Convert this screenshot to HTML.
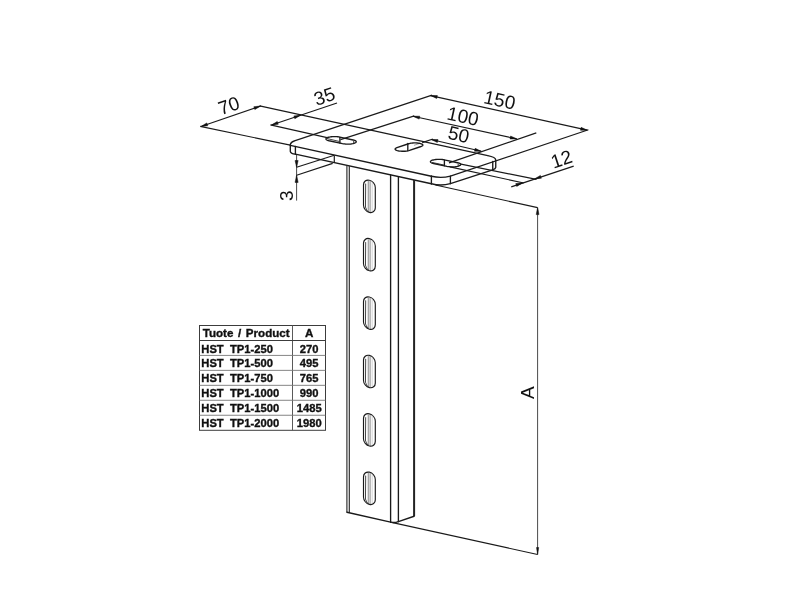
<!DOCTYPE html>
<html><head><meta charset="utf-8"><title>HST TP1</title>
<style>
html,body{margin:0;padding:0;background:#fff;}
body{width:800px;height:600px;overflow:hidden;position:relative;font-family:"Liberation Sans",sans-serif;}
svg{position:absolute;left:0;top:0;filter:grayscale(1);}
.o{fill:none;stroke:#1a1a1a;stroke-width:1.35;stroke-linecap:round;stroke-linejoin:round;}
.d{fill:none;stroke:#1a1a1a;stroke-width:1.18;stroke-linecap:butt;}
.g{fill:none;stroke:#2a2a2a;stroke-width:1.15;}
.l{fill:none;stroke:#666;stroke-width:0.6;}
.s{fill:none;stroke:#2a2a2a;stroke-width:0.9;}
.ar{fill:#111;stroke:#111;stroke-width:0.5;stroke-linejoin:round;}
.th{font-family:"Liberation Sans",sans-serif;font-weight:bold;font-size:11.2px;fill:#111;stroke:#111;stroke-width:0.35px;}
.dt{font-family:"Liberation Sans",sans-serif;font-size:19px;fill:#111;text-anchor:middle;stroke:none;}
</style></head><body>
<svg width="800" height="600" viewBox="0 0 800 600">

<line class="d" x1="200.20" y1="126.30" x2="290.30" y2="145.20"/>
<line class="d" x1="259.60" y1="105.80" x2="487.80" y2="155.70"/>
<line class="d" x1="201.00" y1="126.50" x2="260.60" y2="106.00"/>
<polygon class="ar" points="201.00,126.50 206.75,122.93 207.73,125.77"/>
<polygon class="ar" points="260.60,106.00 254.85,109.57 253.87,106.73"/>
<line class="d" x1="270.40" y1="124.80" x2="328.20" y2="137.95"/>
<line class="d" x1="271.50" y1="125.00" x2="337.00" y2="103.00"/>
<polygon class="ar" points="271.50,125.00 277.28,121.48 278.23,124.32"/>
<polygon class="ar" points="300.60,115.20 294.82,118.72 293.87,115.88"/>
<line class="d" x1="294.40" y1="140.90" x2="432.00" y2="95.10"/>
<line class="d" x1="450.40" y1="176.10" x2="588.40" y2="129.80"/>
<line class="d" x1="430.60" y1="95.60" x2="587.25" y2="130.20"/>
<polygon class="ar" points="430.60,95.60 437.37,95.56 436.72,98.49"/>
<polygon class="ar" points="587.25,130.20 580.48,130.24 581.13,127.31"/>
<line class="d" x1="340.50" y1="139.60" x2="414.30" y2="115.90"/>
<line class="d" x1="449.00" y1="162.90" x2="536.30" y2="132.90"/>
<line class="d" x1="413.00" y1="116.25" x2="516.75" y2="138.90"/>
<polygon class="ar" points="413.00,116.25 419.77,116.19 419.13,119.12"/>
<polygon class="ar" points="516.75,138.90 509.98,138.96 510.62,136.03"/>
<line class="d" x1="422.20" y1="142.60" x2="432.90" y2="139.00"/>
<line class="l" x1="414.00" y1="145.30" x2="420.00" y2="143.30"/>
<line class="d" x1="431.25" y1="139.50" x2="481.25" y2="151.30"/>
<polygon class="ar" points="431.25,139.50 438.02,139.56 437.33,142.48"/>
<polygon class="ar" points="481.25,151.30 474.48,151.24 475.17,148.32"/>
<line class="d" x1="459.80" y1="163.90" x2="536.50" y2="179.40"/>
<line class="d" x1="450.00" y1="166.90" x2="523.80" y2="183.00"/>
<line class="d" x1="511.25" y1="186.90" x2="573.70" y2="166.10"/>
<polygon class="ar" points="522.50,182.90 516.71,186.41 515.76,183.56"/>
<polygon class="ar" points="534.60,178.90 540.39,175.39 541.34,178.24"/>
<line x1="296.6" y1="154.6" x2="296.6" y2="200.6" style="stroke:#333;stroke-width:0.9"/>
<polygon class="ar" points="296.60,167.30 295.05,160.50 298.15,160.50"/>
<polygon class="ar" points="296.60,175.20 298.15,182.40 295.05,182.40"/>
<line class="d" x1="334.30" y1="155.30" x2="296.60" y2="167.30"/>
<line class="d" x1="332.70" y1="163.40" x2="296.60" y2="175.20"/>
<line class="d" x1="334.30" y1="155.40" x2="334.30" y2="162.90"/>
<line class="d" x1="435.50" y1="185.00" x2="537.60" y2="207.60"/>
<line class="d" x1="391.50" y1="522.40" x2="537.60" y2="554.50"/>
<line x1="537.6" y1="207.6" x2="537.6" y2="554.5" style="stroke:#4a4a4a;stroke-width:1"/>
<polygon class="ar" points="537.60,207.60 539.00,214.60 536.20,214.60"/>
<polygon class="ar" points="537.60,554.50 536.50,547.50 538.70,547.50"/>
<path class="o" d="M294.4,140.9 Q290.6,142.3 290.3,144.6 L290.3,151.4 Q290.6,153.6 295.4,154.2"/>
<line class="o" x1="295.40" y1="146.40" x2="295.40" y2="154.20"/>
<line class="o" x1="290.30" y1="145.30" x2="431.40" y2="176.25"/>
<line class="o" x1="295.40" y1="154.20" x2="431.40" y2="183.75"/>
<path class="o" d="M431.4,176.25 Q441,178.6 450.4,176.1"/>
<path class="o" d="M431.4,183.75 Q441,186.3 450.4,183.6"/>
<line class="o" x1="431.40" y1="176.25" x2="431.40" y2="183.75"/>
<line class="o" x1="450.40" y1="176.10" x2="450.40" y2="183.60"/>
<line class="o" x1="450.40" y1="183.60" x2="492.75" y2="169.90"/>
<path class="o" d="M487.8,155.7 Q495.4,157.2 495.75,159.8 L495.75,167.4 Q495.6,168.9 492.75,169.9"/>
<line class="o" x1="492.75" y1="161.40" x2="492.75" y2="169.90"/>
<path class="o" d="M342.43,143.63 L343.34,143.80 L344.32,143.94 L345.36,144.04 L346.44,144.10 L347.55,144.13 L348.66,144.11 L349.75,144.06 L350.81,143.96 L351.82,143.83 L352.76,143.66 L353.62,143.47 L354.37,143.24 L355.01,142.99 L355.53,142.72 L355.92,142.43 L356.17,142.13 L356.27,141.83 L356.23,141.53 L356.04,141.23 L355.72,140.94 L355.25,140.67 L354.66,140.41 L353.96,140.18 L353.14,139.98 L339.77,137.07 L338.86,136.90 L337.88,136.76 L336.84,136.66 L335.76,136.60 L334.65,136.57 L333.54,136.59 L332.45,136.64 L331.39,136.74 L330.38,136.87 L329.44,137.04 L328.58,137.23 L327.83,137.46 L327.19,137.71 L326.67,137.98 L326.28,138.27 L326.03,138.57 L325.93,138.87 L325.97,139.17 L326.16,139.47 L326.48,139.76 L326.95,140.03 L327.54,140.29 L328.24,140.52 L329.06,140.72Z"/>
<path class="o" d="M408.51,143.76 L409.23,143.55 L410.04,143.36 L410.94,143.20 L411.90,143.08 L412.91,142.99 L413.95,142.93 L415.01,142.92 L416.06,142.94 L417.09,143.00 L418.08,143.09 L419.02,143.22 L419.88,143.39 L420.65,143.58 L421.33,143.80 L421.89,144.04 L422.33,144.30 L422.64,144.58 L422.82,144.86 L422.86,145.15 L422.76,145.44 L422.52,145.72 L422.16,146.00 L421.66,146.25 L421.05,146.49 L409.49,150.44 L408.77,150.65 L407.96,150.84 L407.06,151.00 L406.10,151.12 L405.09,151.21 L404.05,151.27 L402.99,151.28 L401.94,151.26 L400.91,151.20 L399.92,151.11 L398.98,150.98 L398.12,150.81 L397.35,150.62 L396.67,150.40 L396.11,150.16 L395.67,149.90 L395.36,149.62 L395.18,149.34 L395.14,149.05 L395.24,148.76 L395.48,148.48 L395.84,148.20 L396.34,147.95 L396.95,147.71Z"/>
<path class="o" d="M446.93,166.38 L447.84,166.55 L448.82,166.69 L449.86,166.79 L450.94,166.85 L452.05,166.88 L453.16,166.86 L454.25,166.81 L455.31,166.71 L456.32,166.58 L457.26,166.41 L458.12,166.22 L458.87,165.99 L459.51,165.74 L460.03,165.47 L460.42,165.18 L460.67,164.88 L460.77,164.58 L460.73,164.28 L460.54,163.98 L460.22,163.69 L459.75,163.42 L459.16,163.16 L458.46,162.93 L457.64,162.73 L444.27,159.82 L443.36,159.65 L442.38,159.51 L441.34,159.41 L440.26,159.35 L439.15,159.32 L438.04,159.34 L436.95,159.39 L435.89,159.49 L434.88,159.62 L433.94,159.79 L433.08,159.98 L432.33,160.21 L431.69,160.46 L431.17,160.73 L430.78,161.02 L430.53,161.32 L430.43,161.62 L430.47,161.92 L430.66,162.22 L430.98,162.51 L431.45,162.78 L432.04,163.04 L432.74,163.27 L433.56,163.47Z"/>
<line class="o" x1="339.90" y1="137.35" x2="339.90" y2="143.05"/>
<line class="s" x1="353.70" y1="140.75" x2="353.70" y2="143.35"/>
<line class="o" x1="444.40" y1="160.10" x2="444.40" y2="165.80"/>
<line class="s" x1="458.20" y1="163.50" x2="458.20" y2="166.10"/>
<line class="s" x1="326.90" y1="138.50" x2="339.50" y2="141.50"/>
<line class="s" x1="432.00" y1="162.40" x2="444.20" y2="165.10"/>
<line class="o" x1="407.80" y1="143.50" x2="407.80" y2="150.30"/>
<line class="g" x1="346.90" y1="165.39" x2="346.90" y2="512.25"/>
<line class="g" x1="349.30" y1="165.91" x2="349.30" y2="512.80"/>
<line class="o" x1="390.60" y1="174.89" x2="390.60" y2="522.20"/>
<line class="o" x1="398.40" y1="176.58" x2="398.40" y2="521.60"/>
<line x1="414.1" y1="179.99" x2="414.1" y2="516.25" style="fill:none;stroke:#222;stroke-width:2"/>
<line class="o" x1="346.90" y1="512.25" x2="390.60" y2="522.20"/>
<path class="o" d="M390.6,522.2 Q394.6,523.1 398.4,521.6"/>
<line class="o" x1="398.40" y1="521.60" x2="414.10" y2="516.25"/>
<g transform="matrix(1,0.2275,0,1,369.4,196.30)">
<rect class="o" x="-5.9" y="-16.1" width="11.8" height="32.2" rx="5.9" ry="5.9" style="stroke-width:1.15"/>
<path class="l" style="stroke:#333;stroke-width:0.9" d="M-3.7,-11.8 L-3.9,11.5 Q-3.3,14.6 -0.6,15.9"/>
</g>
<line x1="368.25" y1="180.90" x2="368.25" y2="211.70" style="stroke:#444;stroke-width:0.65"/>
<line x1="370.1" y1="180.70" x2="370.1" y2="212.10" style="stroke:#444;stroke-width:0.65"/>
<line x1="372.2" y1="181.80" x2="372.2" y2="211.30" style="stroke:#aaa;stroke-width:0.5"/>
<g transform="matrix(1,0.2275,0,1,369.4,254.70)">
<rect class="o" x="-5.9" y="-16.1" width="11.8" height="32.2" rx="5.9" ry="5.9" style="stroke-width:1.15"/>
<path class="l" style="stroke:#333;stroke-width:0.9" d="M-3.7,-11.8 L-3.9,11.5 Q-3.3,14.6 -0.6,15.9"/>
</g>
<line x1="368.25" y1="239.30" x2="368.25" y2="270.10" style="stroke:#444;stroke-width:0.65"/>
<line x1="370.1" y1="239.10" x2="370.1" y2="270.50" style="stroke:#444;stroke-width:0.65"/>
<line x1="372.2" y1="240.20" x2="372.2" y2="269.70" style="stroke:#aaa;stroke-width:0.5"/>
<g transform="matrix(1,0.2275,0,1,369.4,313.10)">
<rect class="o" x="-5.9" y="-16.1" width="11.8" height="32.2" rx="5.9" ry="5.9" style="stroke-width:1.15"/>
<path class="l" style="stroke:#333;stroke-width:0.9" d="M-3.7,-11.8 L-3.9,11.5 Q-3.3,14.6 -0.6,15.9"/>
</g>
<line x1="368.25" y1="297.70" x2="368.25" y2="328.50" style="stroke:#444;stroke-width:0.65"/>
<line x1="370.1" y1="297.50" x2="370.1" y2="328.90" style="stroke:#444;stroke-width:0.65"/>
<line x1="372.2" y1="298.60" x2="372.2" y2="328.10" style="stroke:#aaa;stroke-width:0.5"/>
<g transform="matrix(1,0.2275,0,1,369.4,371.50)">
<rect class="o" x="-5.9" y="-16.1" width="11.8" height="32.2" rx="5.9" ry="5.9" style="stroke-width:1.15"/>
<path class="l" style="stroke:#333;stroke-width:0.9" d="M-3.7,-11.8 L-3.9,11.5 Q-3.3,14.6 -0.6,15.9"/>
</g>
<line x1="368.25" y1="356.10" x2="368.25" y2="386.90" style="stroke:#444;stroke-width:0.65"/>
<line x1="370.1" y1="355.90" x2="370.1" y2="387.30" style="stroke:#444;stroke-width:0.65"/>
<line x1="372.2" y1="357.00" x2="372.2" y2="386.50" style="stroke:#aaa;stroke-width:0.5"/>
<g transform="matrix(1,0.2275,0,1,369.4,429.90)">
<rect class="o" x="-5.9" y="-16.1" width="11.8" height="32.2" rx="5.9" ry="5.9" style="stroke-width:1.15"/>
<path class="l" style="stroke:#333;stroke-width:0.9" d="M-3.7,-11.8 L-3.9,11.5 Q-3.3,14.6 -0.6,15.9"/>
</g>
<line x1="368.25" y1="414.50" x2="368.25" y2="445.30" style="stroke:#444;stroke-width:0.65"/>
<line x1="370.1" y1="414.30" x2="370.1" y2="445.70" style="stroke:#444;stroke-width:0.65"/>
<line x1="372.2" y1="415.40" x2="372.2" y2="444.90" style="stroke:#aaa;stroke-width:0.5"/>
<g transform="matrix(1,0.2275,0,1,369.4,488.30)">
<rect class="o" x="-5.9" y="-16.1" width="11.8" height="32.2" rx="5.9" ry="5.9" style="stroke-width:1.15"/>
<path class="l" style="stroke:#333;stroke-width:0.9" d="M-3.7,-11.8 L-3.9,11.5 Q-3.3,14.6 -0.6,15.9"/>
</g>
<line x1="368.25" y1="472.90" x2="368.25" y2="503.70" style="stroke:#444;stroke-width:0.65"/>
<line x1="370.1" y1="472.70" x2="370.1" y2="504.10" style="stroke:#444;stroke-width:0.65"/>
<line x1="372.2" y1="473.80" x2="372.2" y2="503.30" style="stroke:#aaa;stroke-width:0.5"/>
<text class="dt" transform="translate(228.90,105.50) rotate(-19.00)" x="0" y="6.70">70</text>
<text class="dt" transform="translate(324.25,96.25) rotate(-18.60)" x="0" y="6.70">35</text>
<text class="dt" transform="translate(499.70,99.90) rotate(12.46)" x="0" y="6.70">150</text>
<text class="dt" transform="translate(463.00,116.00) rotate(12.46)" x="0" y="6.70">100</text>
<text class="dt" transform="translate(458.75,134.40) rotate(12.90)" x="0" y="6.70">50</text>
<text class="dt" transform="translate(561.30,159.00) rotate(-18.40)" x="0" y="6.70">12</text>
<text class="dt" transform="translate(286.25,195.60) rotate(-90.00)" x="0" y="6.70">3</text>
<text class="dt" transform="translate(527.20,392.60) rotate(-90.00)" x="0" y="6.70">A</text>
<rect x="199.5" y="325.5" width="126" height="104.8" style="fill:#fff;stroke:#3c3c3c;stroke-width:1"/>
<line x1="292.5" y1="325.5" x2="292.5" y2="430.3" style="stroke:#5a5a5a;stroke-width:1"/>
<line x1="199.5" y1="340.5" x2="325.5" y2="340.5" style="stroke:#3c3c3c;stroke-width:1"/>
<line x1="199.5" y1="355.41" x2="325.5" y2="355.41" style="stroke:#777;stroke-width:0.9"/>
<line x1="199.5" y1="370.37" x2="325.5" y2="370.37" style="stroke:#777;stroke-width:0.9"/>
<line x1="199.5" y1="385.33" x2="325.5" y2="385.33" style="stroke:#777;stroke-width:0.9"/>
<line x1="199.5" y1="400.29" x2="325.5" y2="400.29" style="stroke:#777;stroke-width:0.9"/>
<line x1="199.5" y1="415.25" x2="325.5" y2="415.25" style="stroke:#777;stroke-width:0.9"/>
<text class="th" x="202.7" y="336.8" style="font-size:11.6px;word-spacing:1.4px">Tuote / Product</text>
<text class="th" x="309.2" y="336.8" style="font-size:11.6px;text-anchor:middle">A</text>
<text class="th" x="201.3" y="352.50" style="word-spacing:3.2px">HST TP1-250</text>
<text class="th" x="309.2" y="352.50" style="text-anchor:middle">270</text>
<text class="th" x="201.3" y="367.42" style="word-spacing:3.2px">HST TP1-500</text>
<text class="th" x="309.2" y="367.42" style="text-anchor:middle">495</text>
<text class="th" x="201.3" y="382.34" style="word-spacing:3.2px">HST TP1-750</text>
<text class="th" x="309.2" y="382.34" style="text-anchor:middle">765</text>
<text class="th" x="201.3" y="397.26" style="word-spacing:3.2px">HST TP1-1000</text>
<text class="th" x="309.2" y="397.26" style="text-anchor:middle">990</text>
<text class="th" x="201.3" y="412.18" style="word-spacing:3.2px">HST TP1-1500</text>
<text class="th" x="309.2" y="412.18" style="text-anchor:middle">1485</text>
<text class="th" x="201.3" y="427.10" style="word-spacing:3.2px">HST TP1-2000</text>
<text class="th" x="309.2" y="427.10" style="text-anchor:middle">1980</text>
</svg>
</body></html>
